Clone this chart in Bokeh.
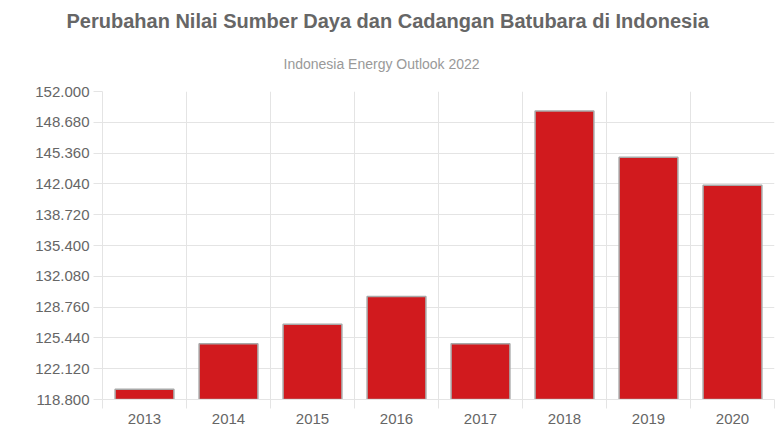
from bokeh.plotting import figure
from bokeh.models import FixedTicker, Title, Range1d
from bokeh.embed import file_html
from bokeh.resources import INLINE

years = ["2013", "2014", "2015", "2016", "2017", "2018", "2019", "2020"]
values = [119900, 124800, 126900, 129900, 124800, 149900, 144900, 141900]
y_ticks = [118800, 122120, 125440, 128760, 132080, 135400, 138720, 142040, 145360, 148680, 152000]
y_tick_labels = ["118.800", "122.120", "125.440", "128.760", "132.080", "135.400",
                 "138.720", "142.040", "145.360", "148.680", "152.000"]

title_text = "Perubahan Nilai Sumber Daya dan Cadangan Batubara di Indonesia"
subtitle_text = "Indonesia Energy Outlook 2022"

FONT = "Liberation Sans"
GRID = "#e4e4e4"

x_pos = [i + 0.5 for i in range(len(years))]

p = figure(width=775, height=435, output_backend="svg", toolbar_location=None,
           x_range=Range1d(0, len(years)), y_range=Range1d(y_ticks[0], y_ticks[-1]),
           min_border_left=102, min_border_right=1, min_border_bottom=36, min_border_top=91)
p.title = None
p.outline_line_color = None
p.background_fill_color = "white"
p.border_fill_color = "white"

sub = Title(text=subtitle_text, align="left", offset=181, text_font=FONT,
            text_font_size="14px", text_color="#999999", text_font_style="normal",
            standoff=39)
p.add_layout(sub, "above")
main = Title(text=title_text, align="left", offset=-36, text_font=FONT,
             text_font_size="20px", text_color="#666666", text_font_style="bold",
             standoff=6)
p.add_layout(main, "above")

p.vbar(x=x_pos, top=values, bottom=y_ticks[0], width=0.7,
       fill_color="#d11a1e", line_color="#a8a8a8", line_width=1.5)

# x axis
p.xaxis.ticker = FixedTicker(ticks=x_pos, minor_ticks=list(range(len(years) + 1)))
p.xaxis.major_label_overrides = {x: y for x, y in zip(x_pos, years)}
p.xaxis.major_tick_line_color = None
p.xaxis.minor_tick_line_color = GRID
p.xaxis.minor_tick_out = 9
p.xaxis.minor_tick_in = 0
p.xaxis.axis_line_color = GRID
p.xaxis.major_label_text_font = FONT
p.xaxis.major_label_text_font_size = "15px"
p.xaxis.major_label_text_color = "#666666"
p.xaxis.major_label_standoff = 5

p.xgrid.ticker = FixedTicker(ticks=list(range(len(years) + 1)))
p.xgrid.grid_line_color = GRID

# y axis
p.yaxis.ticker = FixedTicker(ticks=y_ticks)
p.yaxis.major_label_overrides = {t: l for t, l in zip(y_ticks, y_tick_labels)}
p.yaxis.major_tick_line_color = GRID
p.yaxis.major_tick_out = 9
p.yaxis.major_tick_in = 0
p.yaxis.minor_tick_line_color = None
p.yaxis.axis_line_color = GRID
p.yaxis.major_label_text_font = FONT
p.yaxis.major_label_text_font_size = "15px"
p.yaxis.major_label_text_color = "#666666"
p.yaxis.major_label_standoff = 4
p.ygrid.grid_line_color = GRID

open("out.html", "w").write(file_html(p, INLINE))
